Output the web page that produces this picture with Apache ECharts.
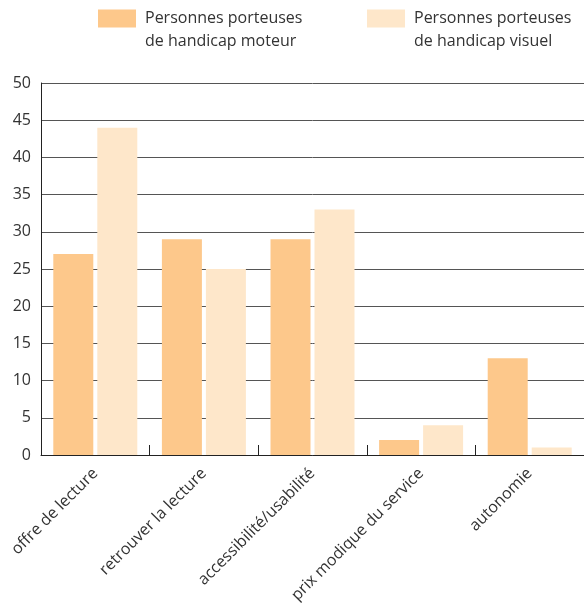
<!DOCTYPE html>
<html><head><meta charset="utf-8">
<script src="https://cdn.jsdelivr.net/npm/echarts@6/dist/echarts.min.js"></script>
<style>html,body{margin:0;padding:0;background:#fff}#c{width:584px;height:610px}</style>
</head><body><div id="c"></div>
<script>
const categories = ['offre de lecture', 'retrouver la lecture', 'accessibilité/usabilité', 'prix modique du service', 'autonomie'];
const seriesNames = ['Personnes porteuses\nde handicap moteur', 'Personnes porteuses\nde handicap visuel'];
const moteur = [27, 29, 29, 2, 13];
const visuel = [44, 25, 33, 4, 1];
const yTicks = [0, 5, 10, 15, 20, 25, 30, 35, 40, 45, 50];

const font = '"Open Sans", sans-serif';
const chart = echarts.init(document.getElementById('c'), null, {renderer: 'canvas'});
const legendText = {fontFamily: font, fontSize: 16, color: '#333', lineHeight: 23, padding: [0, 0, 0, 4]};
const legendFmt = name => '\n' + name;
chart.setOption({
  animation: false,
  legend: [
    {data: [seriesNames[0]], left: 98, top: -16, padding: 0, itemWidth: 38, itemHeight: 18, icon: 'rect', textStyle: legendText, formatter: legendFmt, selectedMode: false},
    {data: [seriesNames[1]], left: 367, top: -16, padding: 0, itemWidth: 38, itemHeight: 18, icon: 'rect', textStyle: legendText, formatter: legendFmt, selectedMode: false}
  ],
  grid: {left: 41, right: 0, top: 83, bottom: 155},
  xAxis: {
    type: 'category', data: categories,
    axisLine: {lineStyle: {color: '#222', width: 1}},
    axisTick: {show: true, inside: true, length: 10, lineStyle: {color: '#222'}},
    axisLabel: {rotate: 45, fontFamily: font, fontSize: 16, color: '#333', margin: 16, interval: 0}
  },
  yAxis: {
    type: 'value', min: 0, max: 50, interval: 5,
    axisLine: {show: true, lineStyle: {color: '#222', width: 1}},
    axisTick: {show: false},
    splitLine: {lineStyle: {color: '#555', width: 1}},
    axisLabel: {fontFamily: font, fontSize: 16, color: '#333', margin: 10,
      formatter: v => yTicks.includes(v) ? String(v) : ''}
  },
  series: [
    {name: seriesNames[0], type: 'bar', data: moteur, barWidth: 40, barGap: '10%', itemStyle: {color: '#FDC88B'}},
    {name: seriesNames[1], type: 'bar', data: visuel, barWidth: 40, barGap: '10%', itemStyle: {color: '#FEE7CA'}}
  ]
});
</script></body></html>
